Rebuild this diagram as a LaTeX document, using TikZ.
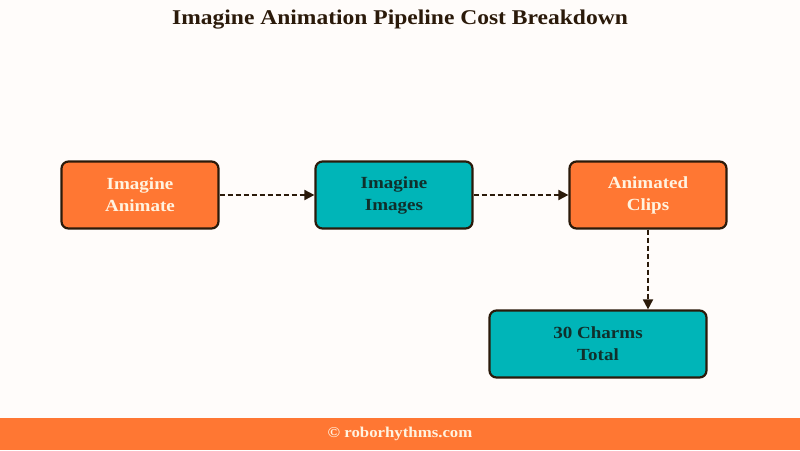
\documentclass[tikz,border=0pt]{standalone}
\usepackage{fontspec}
\setmainfont{Liberation Serif}[FakeStretch=1.12]
\usetikzlibrary{arrows.meta}
\definecolor{bg}{HTML}{FFFCFA}
\definecolor{orng}{HTML}{FF7733}
\definecolor{teal}{HTML}{00B5B8}
\definecolor{dark}{HTML}{2B1A0A}
\definecolor{cream}{HTML}{FFF3E0}
\definecolor{tealtext}{HTML}{10302C}
\tikzset{
  box/.style={draw=dark, line width=2.2pt, rounded corners=7pt, minimum width=157pt, minimum height=67pt, align=center, font=\bfseries\fontsize{17}{22}\selectfont, inner sep=0pt},
  obox/.style={box, fill=orng, text=cream},
  tbox/.style={box, fill=teal, text=tealtext},
  conn/.style={draw=dark, line width=1.8pt, dash pattern=on 5pt off 3pt, -{Triangle[length=10pt,width=10pt]}},
}
\begin{document}
\begin{tikzpicture}[x=1pt,y=-1pt]
\useasboundingbox (0,0) rectangle (800,450);
\fill[bg] (0,0) rectangle (800,450);
\fill[orng] (0,418) rectangle (800,450);
\node[font=\bfseries\fontsize{15}{18}\selectfont, text=cream] (foot) at (400,434) {© roborhythms.com};
\node[font=\bfseries\fontsize{21}{25}\selectfont, text=dark] (title) at (400,20) {Imagine Animation Pipeline Cost Breakdown};
\node[obox] (a) at (140,195) {Imagine\\Animate};
\node[tbox] (b) at (394,195) {Imagine\\Images};
\node[obox] (c) at (648,195) {Animated\\Clips};
\node[tbox, minimum width=217pt] (d) at (598,344) {30 Charms\\Total};
\draw[conn] (a) -- (b);
\draw[conn] (b) -- (c);
\draw[conn] (c.south) -- (c.south |- d.north);
\end{tikzpicture}
\end{document}
